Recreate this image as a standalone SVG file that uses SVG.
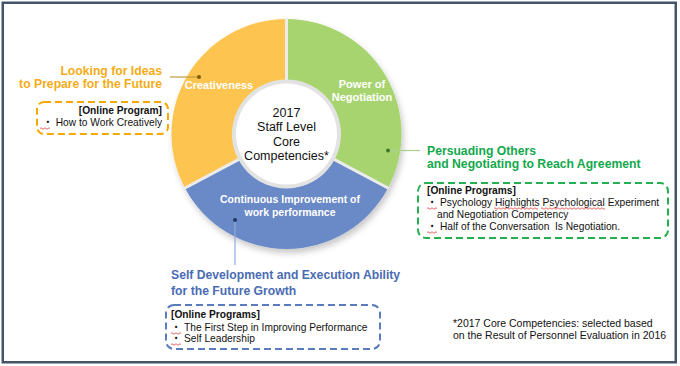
<svg xmlns="http://www.w3.org/2000/svg" width="680" height="366" viewBox="0 0 680 366">
<defs>
<style>
text{font-family:"Liberation Sans","Noto Sans CJK KR",sans-serif;}
.seg{font-size:11px;font-weight:bold;fill:#fff;text-anchor:middle;}
.ctr{font-size:12.5px;fill:#111;text-anchor:middle;}
.ttl{font-size:12.2px;font-weight:bold;}
.box{font-size:10.2px;fill:#111;}
.hd{font-weight:bold;}
.note{font-size:10.5px;fill:#111;}
.dash{fill:none;stroke-width:2;stroke-dasharray:7 4;}
.gap{stroke:#ececec;stroke-width:3;}
.sq{fill:none;stroke:#e02020;stroke-width:0.7;}
</style>
<filter id="sh" x="-15%" y="-15%" width="135%" height="140%">
<feDropShadow dx="2" dy="4" stdDeviation="3" flood-color="#000" flood-opacity="0.22"/>
</filter>
<path id="w10" d="M0 0q1 -1.5 2 0t2 0t2 0t2 0t2 0"/>
</defs>
<rect x="2.75" y="2.75" width="673" height="359.5" fill="#fff" stroke="#44546a" stroke-width="2.5"/>

<g id="donut">
<g filter="url(#sh)">
<path id="seg-creativeness" d="M184.96 187.99A115 115 0 0 1 286.5 19L286.5 80A54 54 0 0 0 238.82 159.35Z" fill="#fdc54f"/>
<path id="seg-negotiation" d="M286.5 19A115 115 0 0 1 388.04 187.99L334.18 159.35A54 54 0 0 0 286.5 80Z" fill="#a8d46f"/>
<path id="seg-improvement" d="M388.04 187.99A115 115 0 0 1 184.96 187.99L238.82 159.35A54 54 0 0 0 334.18 159.35Z" fill="#6a89c7"/>
</g>
<line class="gap" x1="286.5" y1="80" x2="286.5" y2="18"/>
<line class="gap" x1="334.18" y1="159.35" x2="388.9" y2="188.5"/>
<line class="gap" x1="238.82" y1="159.35" x2="184.1" y2="188.5"/>
<circle cx="286.5" cy="134" r="54.5" fill="#e2e2e2"/>
<circle cx="286.5" cy="134" r="50.5" fill="#fff"/>
<text class="seg" x="219" y="89">Creativeness</text>
<text class="seg" x="362" y="87.5">Power of</text>
<text class="seg" x="362" y="100.7">Negotiation</text>
<text class="seg" x="290" y="203.3" style="font-size:10.5px">Continuous Improvement of</text>
<text class="seg" x="290" y="215.5" style="font-size:10.5px">work performance</text>
</g>

<g id="center">
<text class="ctr" x="286.5" y="117">2017</text>
<text class="ctr" x="286.5" y="131">Staff Level</text>
<text class="ctr" x="286.5" y="145.5">Core</text>
<text class="ctr" x="286.5" y="159.5">Competencies*</text>
</g>

<g id="connectors">
<line x1="170" y1="77" x2="199" y2="77" stroke="#bf9a3a" stroke-width="1.2"/>
<circle cx="199" cy="77" r="2" fill="#7f6000"/>
<line x1="388" y1="150.5" x2="420" y2="150.5" stroke="#a9d18e" stroke-width="1.2"/>
<circle cx="388" cy="150.5" r="2" fill="#3a7a2a"/>
<line x1="235" y1="220" x2="235" y2="265" stroke="#8faadc" stroke-width="1.2"/>
<circle cx="235" cy="220" r="2" fill="#203864"/>
</g>

<g id="creativeness-info">
<text class="ttl" x="162" y="75" fill="#f5ac18" text-anchor="end">Looking for Ideas</text>
<text class="ttl" x="162" y="88.3" fill="#f5ac18" text-anchor="end">to Prepare for the Future</text>
<rect class="dash" x="37" y="102" width="131" height="32" rx="7" stroke="#f5a800"/>
<text class="box hd" x="162" y="114" text-anchor="end">[Online Program]</text>
<text class="box" x="162" y="126" text-anchor="end">・ How to Work Creatively</text>
</g>

<g id="negotiation-info">
<text class="ttl" x="427" y="155" fill="#12a84c">Persuading Others</text>
<text class="ttl" x="427" y="168.3" fill="#12a84c">and Negotiating to Reach Agreement</text>
<rect class="dash" x="418" y="183" width="250" height="55" rx="8" stroke="#22b050"/>
<text class="box hd" x="427" y="194">[Online Programs]</text>
<text class="box" x="427" y="206">・ Psychology Highlights Psychological Experiment</text>
<text class="box" x="437" y="218">and Negotiation Competency</text>
<text class="box" x="427" y="230" xml:space="preserve">・ Half of the Conversation  Is Negotiation.</text>
</g>

<g id="improvement-info">
<text class="ttl" x="171" y="279" fill="#4a6cb4">Self Development and Execution Ability</text>
<text class="ttl" x="171" y="295" fill="#4a6cb4">for the Future Growth</text>
<rect class="dash" x="166" y="305" width="214" height="44" rx="8" stroke="#5b7bbf"/>
<text class="box hd" x="171" y="318">[Online Programs]</text>
<text class="box" x="171" y="331">・ The First Step in Improving Performance</text>
<text class="box" x="171" y="342">・ Self Leadership</text>
</g>

<g id="footnote">
<text class="note" x="453" y="327">*2017 Core Competencies: selected based</text>
<text class="note" x="453" y="339">on the Result of Personnel Evaluation in 2016</text>
</g>

<g id="spellmarks" class="sq">
<use href="#w10" x="40" y="128.5"/>
<use href="#w10" x="427" y="208.5"/>
<use href="#w10" x="427" y="232.5"/>
<use href="#w10" x="171" y="333.5"/>
<use href="#w10" x="171" y="344.5"/>
<path d="M494 208.5q1 -1.5 2 0t2 0t2 0t2 0t2 0t2 0t2 0t2 0t2 0t2 0t2 0t2 0t2 0t2 0t2 0t2 0t2 0t2 0t2 0t2 0t2 0t2 0"/>
<path d="M541 208.5q1 -1.5 2 0t2 0t2 0t2 0t2 0t2 0t2 0t2 0t2 0t2 0t2 0t2 0t2 0t2 0t2 0t2 0t2 0t2 0t2 0t2 0t2 0t2 0t2 0t2 0t2 0t2 0t2 0t2 0t2 0t2 0t2 0t2 0"/>
</g>
</svg>
